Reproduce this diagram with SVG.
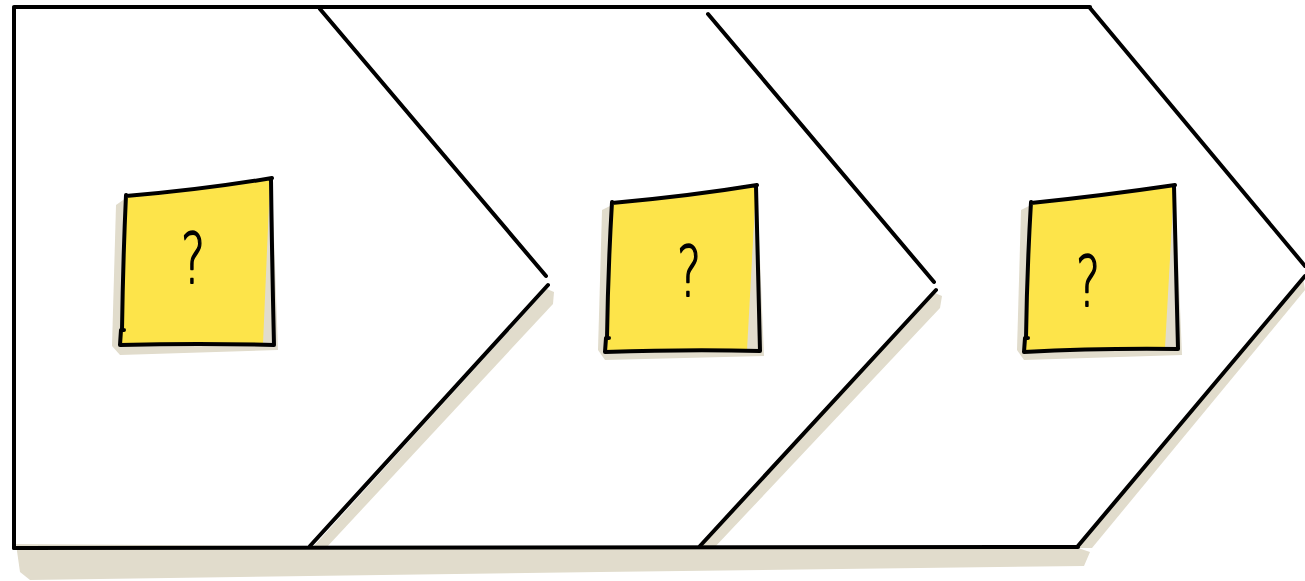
<svg xmlns="http://www.w3.org/2000/svg" width="1305" height="581" viewBox="0 0 1305 581">
<style>
.ln{fill:none;stroke:#000;stroke-width:4;stroke-linecap:round;stroke-linejoin:round}
.sh{fill:#e1dccc}
.yl{fill:#fde44a}
.q{font-family:"DejaVu Sans",sans-serif;font-size:70px;font-weight:300;fill:#000;stroke:#000;stroke-width:1.8;stroke-linejoin:round;text-anchor:middle}
</style>
<rect width="1305" height="581" fill="#fff"/>
<g id="shadows">
<path class="sh" d="M16,544 L300,546 L1078,548 L1090,552 L1084,566 L600,572 L30,580 L20,572 Z"/>
<path class="sh" d="M547,289 L554,292 L553,304 L326,548 L312,548 Z"/>
<path class="sh" d="M935,293 L942,296 L940,308 L714,548 L700,548 Z"/>
<path class="sh" d="M1303,278 L1305,290 L1092,548 L1078,548 Z"/>
</g>
<g id="connectors">
<path class="ln" d="M14,8 L14,548"/>
<path class="ln" d="M14,7 L1090,7"/>
<path class="ln" d="M14,548 L1078,547"/>
<path class="ln" d="M320,9 L546,276"/>
<path class="ln" d="M548,285 L310,546"/>
<path class="ln" d="M708,14 L934,282"/>
<path class="ln" d="M936,290 L700,546"/>
<path class="ln" d="M1090,8 L1305,266"/>
<path class="ln" d="M1305,276 L1078,546"/>
</g>
<g id="note1">
<path class="sh" d="M116,205 L126,198 L272,180 L278,350 L120,355 L112,346 Z"/>
<path class="yl" d="M126,196 L270,180 L265,344 L121,344 Z"/>
<path class="sh" d="M270,181 L273,344 L263,344 Z"/>
<path class="ln" d="M126,196 Q200,190 272,178 M271,179 Q272,260 274,345 M274,345 Q200,343 120,345 M120,345 L121,330 L124,330 M122,330 Q123,260 126,195"/>
<text class="q" x="193" y="283" transform="translate(193 0) scale(0.65 1) translate(-193 0)">?</text>
</g>
<g id="note2">
<path class="sh" d="M602,210 L612,205 L757,187 L764,356 L605,360 L598,350 Z"/>
<path class="yl" d="M612,203 L756,186 L748,350 L607,351 Z"/>
<path class="sh" d="M756,187 L759,350 L747,350 Z"/>
<path class="ln" d="M612,203 Q690,196 757,185 M756,186 Q758,270 760,351 M760,351 Q690,349 605,352 M605,352 L606,338 L609,338 M607,338 Q608,270 612,202"/>
<text class="q" x="689" y="296" transform="translate(689 0) scale(0.65 1) translate(-689 0)">?</text>
</g>
<g id="note3">
<path class="sh" d="M1021,210 L1031,205 L1175,187 L1182,355 L1024,360 L1017,350 Z"/>
<path class="yl" d="M1031,203 L1174,186 L1166,348 L1026,350 Z"/>
<path class="sh" d="M1174,187 L1177,348 L1165,348 Z"/>
<path class="ln" d="M1031,203 Q1100,196 1175,185 M1174,186 Q1176,270 1178,349 M1178,349 Q1100,348 1024,352 M1024,352 L1025,338 L1028,338 M1026,338 Q1027,270 1031,202"/>
<text class="q" x="1088" y="306" transform="translate(1088 0) scale(0.65 1) translate(-1088 0)">?</text>
</g>
</svg>
